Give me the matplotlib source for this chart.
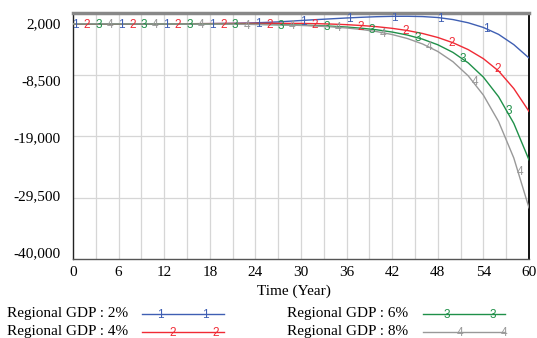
import numpy as np
import matplotlib
matplotlib.use("Agg")
import matplotlib.pyplot as plt
from matplotlib.lines import Line2D
import matplotlib.transforms as mtransforms

# ---------------- data ----------------
time = [0, 6, 12, 18, 21, 24, 27, 30, 32, 34, 36, 38, 40, 42, 44, 46, 48, 50, 52, 54, 56, 58, 60]
gdp_2 = [100, 110, 140, 190, 240, 320, 480, 720, 870, 1010, 1150, 1270, 1370, 1430, 1440, 1390,
         1230, 880, 330, -470, -1650, -3400, -5680]
gdp_4 = [100, 120, 150, 190, 210, 230, 230, 220, 180, 110, 10, -140, -340, -620, -990, -1500,
         -2180, -3080, -4250, -5800, -7900, -10900, -14800]
gdp_6 = [148, 145, 137, 117, 97, 65, 15, -66, -144, -252, -400, -601, -876, -1252, -1765, -2466,
         -3422, -4732, -6516, -8956, -12294, -16850, -23078]
gdp_8 = [148, 144, 134, 109, 84, 44, -21, -125, -227, -367, -559, -822, -1183, -1679, -2358, -3290,
         -4568, -6323, -8725, -12023, -16547, -22753, -31264]

series_names = ["Regional GDP : 2%", "Regional GDP : 4%", "Regional GDP : 6%", "Regional GDP : 8%"]
series_ids = ["1", "2", "3", "4"]
x_ticks = [0, 6, 12, 18, 24, 30, 36, 42, 48, 54, 60]
y_ticks = [2000, -8500, -19000, -29500, -40000]
y_tick_labels = ["2,000", "-8,500", "-19,000", "-29,500", "-40,000"]
x_label = "Time (Year)"

colors = ["#3f5fb3", "#f02a35", "#1f9049", "#999999"]
label_offsets = [0.0, 1.5, 3.0, 4.5]

W, H = 537, 338
fig = plt.figure(figsize=(W / 100, H / 100), dpi=100)
serif = ["Liberation Serif", "DejaVu Serif"]
sans = ["Liberation Sans", "DejaVu Sans"]
MARK_FS = 8.5
MARK_DY = -4.2  # pixels: baseline shift so digits are centred on the line

def fx(x):
    return x / W

def fy(y):
    return 1 - y / H

ax = fig.add_axes([fx(73), fy(259), fx(529) - fx(73), fy(13) - fy(259)])
ax.set_xlim(0, 60)
ax.set_ylim(-40000, 2000)

# grid
for t in np.arange(3, 60, 3):
    ax.axvline(t, color="#d6d6d6", lw=0.9, zorder=0)
for v in y_ticks[1:-1]:
    ax.axhline(v, color="#d6d6d6", lw=0.9, zorder=0)

ax.set_xticks(x_ticks)
ax.set_xticklabels([str(t) for t in x_ticks], fontfamily=serif, fontsize=11)
ax.set_yticks(y_ticks)
ax.set_yticklabels(y_tick_labels, fontfamily=serif, fontsize=11)
ax.tick_params(axis="both", length=0)
ax.tick_params(axis="y", pad=9)
ax.tick_params(axis="x", pad=5)

# vensim-style compressed y label positions
ylab_shift = [-10, -5.75, -1.5, 2.75, 7]
for lab, dy in zip(ax.get_yticklabels(), ylab_shift):
    lab.set_transform(lab.get_transform() + mtransforms.ScaledTranslation(0, dy / 100, fig.dpi_scale_trans))

ax.set_xlabel(x_label, fontfamily=serif, fontsize=11, labelpad=4)
ax.xaxis.set_label_coords((294 - 73) / 456, -0.105)

for side in ["left", "bottom", "right"]:
    ax.spines[side].set_linewidth(1.0)
ax.spines["left"].set_color("#222222")
ax.spines["bottom"].set_color("#555555")
ax.spines["right"].set_color("#111111")
ax.spines["right"].set_linewidth(1.4)
ax.spines["top"].set_color("#888888")
ax.spines["top"].set_linewidth(2.5)

series = [gdp_2, gdp_4, gdp_6, gdp_8]
shift = mtransforms.offset_copy(ax.transData, fig=fig, x=2.5, y=MARK_DY, units="dots")
for vals, c, sid, off in zip(series, colors, series_ids, label_offsets):
    ax.plot(time, vals, color=c, lw=1.0, zorder=3)
    pos = np.arange(off, 60.01, 6.0)
    yv = np.interp(pos, time, vals)
    for p, v in zip(pos, yv):
        ax.text(p, v, sid, color=c, fontsize=MARK_FS, family=sans,
                ha="center", va="baseline", transform=shift, zorder=4, clip_on=True)

# legend drawn manually
legend_rows = [(0, 313.5), (1, 331.5), (2, 313.5), (3, 331.5)]
text_x = [7, 7, 287, 287]
line_x = [(142, 224), (142, 224), (423, 505), (423, 505)]
mark_x = [(160, 205), (173, 216), (447, 493), (460, 504)]
for i, (idx, yy) in enumerate(legend_rows):
    fig.text(fx(text_x[i]), fy(yy), series_names[idx], fontfamily=serif, fontsize=11,
             ha="left", va="center")
    x0, x1 = line_x[i]
    fig.add_artist(Line2D([fx(x0), fx(x1)], [fy(yy), fy(yy)], color=colors[idx], lw=1.0,
                          transform=fig.transFigure))
    for mx in mark_x[i]:
        fig.text(fx(mx), fy(yy - MARK_DY), series_ids[idx], color=colors[idx], fontsize=MARK_FS,
                 family=sans, ha="center", va="baseline")

fig.savefig("out.png", dpi=100)
